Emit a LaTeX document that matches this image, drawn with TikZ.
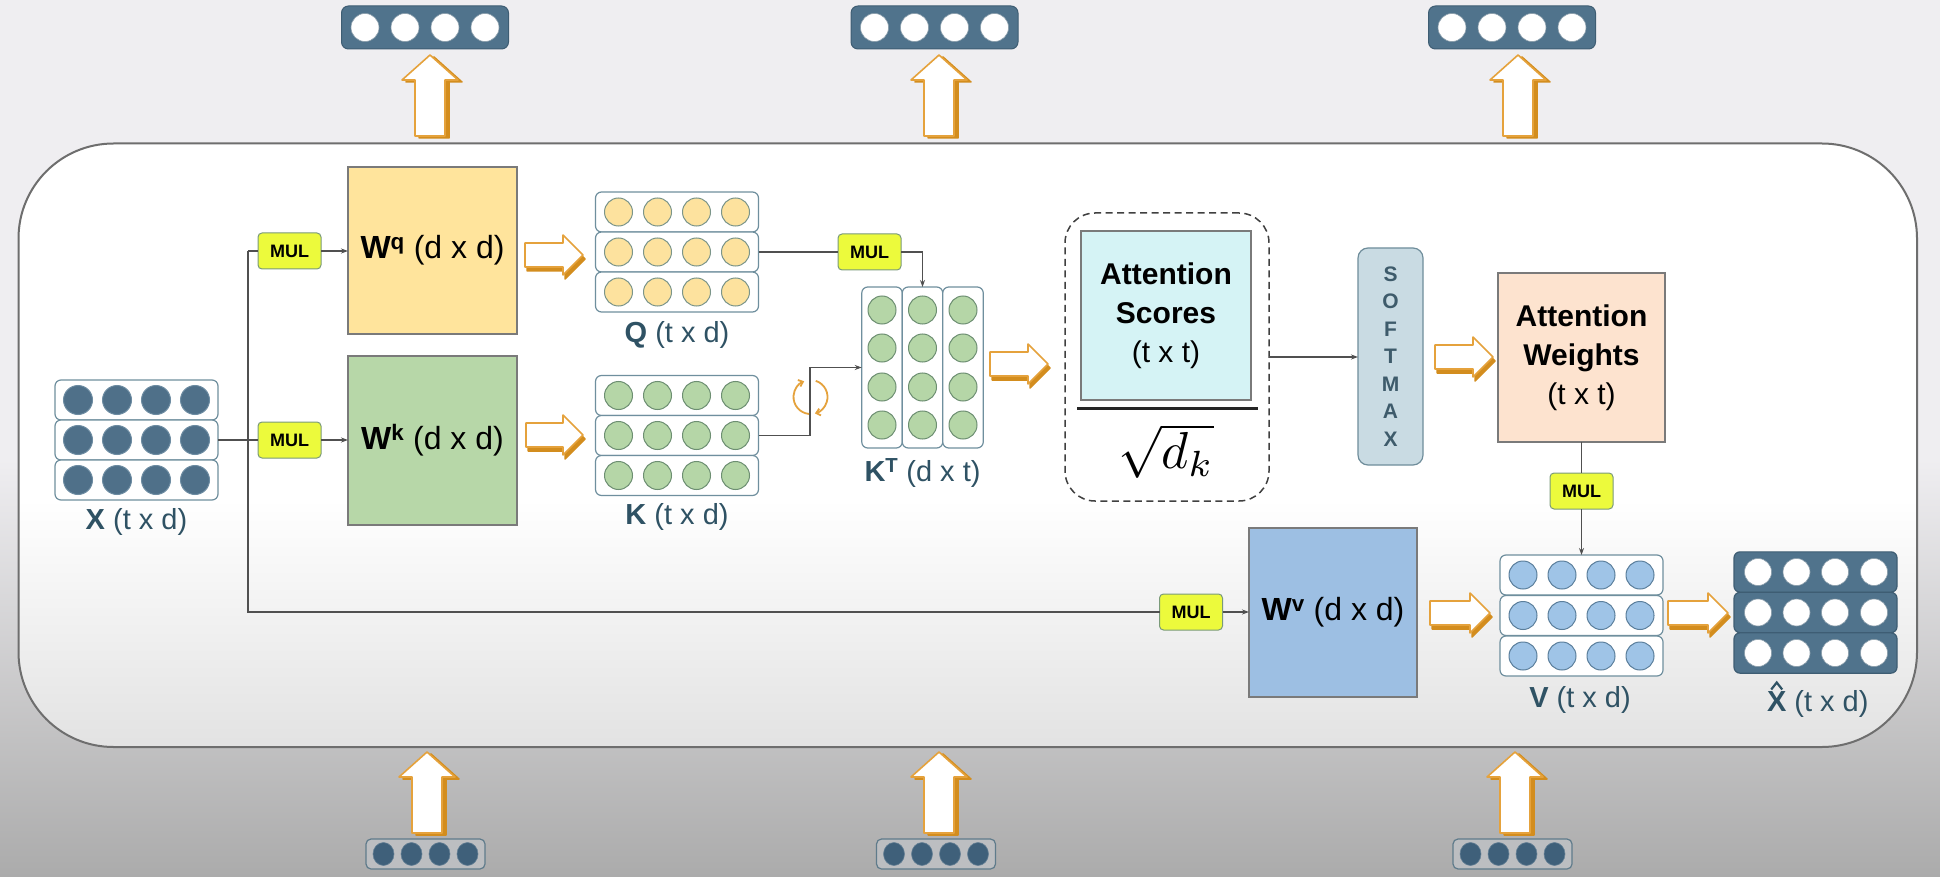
\documentclass[tikz,border=0pt]{standalone}
\usepackage{fontspec}
\setmainfont{Liberation Sans}
\usetikzlibrary{shapes.geometric,arrows.meta,calc}
\definecolor{bgtop}{HTML}{EFEEF1}
\definecolor{bgbot}{HTML}{ABABAB}
\definecolor{framec}{HTML}{6E6E6E}
\definecolor{framebot}{HTML}{E2E2E2}
\definecolor{rowc}{HTML}{6F8F9E}
\definecolor{qfill}{HTML}{FDE29E}
\definecolor{qline}{HTML}{7B958A}
\definecolor{kfill}{HTML}{B5D6A7}
\definecolor{kline}{HTML}{6D8F72}
\definecolor{vfill}{HTML}{9FC4E7}
\definecolor{vline}{HTML}{5B7F9C}
\definecolor{xfill}{HTML}{4F7089}
\definecolor{xline}{HTML}{6D8CA2}
\definecolor{darkrow}{HTML}{50738C}
\definecolor{darkrowline}{HTML}{3E5D73}
\definecolor{wqc}{HTML}{FFE49C}
\definecolor{wkc}{HTML}{B7D7A8}
\definecolor{wvc}{HTML}{9DBFE3}
\definecolor{scorec}{HTML}{D5F3F5}
\definecolor{awc}{HTML}{FDE3CF}
\definecolor{smaxc}{HTML}{C9DBE3}
\definecolor{smaxline}{HTML}{6F8D9B}
\definecolor{smaxtext}{HTML}{3E5B6B}
\definecolor{mulc}{HTML}{ECFA3C}
\definecolor{mulline}{HTML}{7A9A7A}
\definecolor{labc}{HTML}{2F5264}
\definecolor{connc}{HTML}{505050}
\definecolor{arrc}{HTML}{E5A23C}
\definecolor{arrdark}{HTML}{D38D1E}
\definecolor{botvecc}{HTML}{BCBEC1}
\definecolor{botvecline}{HTML}{5F7B8B}
\definecolor{botcell}{HTML}{3F607A}
\definecolor{wline}{HTML}{7A7A7A}

\newcommand{\hrow}[4]{%
  \node[rowbox] (#1) at (#2,#3) {};
  \foreach \kk/\dd in {1/-58.5,2/-19.5,3/19.5,4/58.5}{%
    \node[#4] (#1c\kk) at ([xshift=\dd pt]#1.center) {};}}
\newcommand{\vcolm}[3]{%
  \node[colbox] (#1) at (#2,#3) {};
  \foreach \kk/\dd in {1/57.5,2/19.5,3/-19.5,4/-57.5}{%
    \node[kcell] (#1c\kk) at ([yshift=\dd pt]#1.center) {};}}
\newcommand{\xhrow}[3]{%
  \node[xhbox] (#1) at (#2,#3) {};
  \foreach \kk/\dd in {1/-57.5,2/-19,3/19.5,4/58.5}{%
    \node[whitecell] (#1c\kk) at ([xshift=\dd pt]#1.center) {};}}
\newcommand{\topvec}[3]{%
  \node[topvecbox] (#1) at (#2,#3) {};
  \foreach \kk/\dd in {1/-60,2/-20,3/20,4/60}{%
    \node[whitecell,minimum size=28pt] (#1c\kk) at ([xshift=\dd pt]#1.center) {};}}
\newcommand{\botvec}[3]{%
  \node[botvecbox] (#1) at (#2,#3) {};
  \foreach \kk/\dd in {1/-42,2/-14,3/14,4/42}{%
    \node[botcellst] (#1c\kk) at ([xshift=\dd pt]#1.center) {};}}
% sketchy block arrows
\newcommand{\upsk}[2]{%
  \foreach \ox/\oy/\sty in {4/2/arrsh,0/0/arrfg}{%
    \path[\sty] (#1+\ox,#2+\oy) -- ++(28,25) -- ++(-13,0) -- ++(0,56) -- ++(-30,0) -- ++(0,-56) -- ++(-13,0) -- cycle;}}
\newcommand{\rightsk}[3]{%
  \foreach \ox/\oy/\sty in {2/4/arrsh,0/0/arrfg}{%
    \path[\sty] (#1+\ox,#2-12+\oy) -- ++(#3-20,0) -- ++(0,-8) -- ++(20,20) -- ++(-20,20) -- ++(0,-8) -- ++(-#3+20,0) -- cycle;}}

\begin{document}
\begin{tikzpicture}[x=1pt,y=-1pt,
  every node/.style={inner sep=0pt,outer sep=0pt},
  rowbox/.style={draw=rowc,fill=white,rounded corners=6pt,line width=1.2pt,minimum width=163pt,minimum height=40pt},
  colbox/.style={rowbox,minimum width=40.5pt,minimum height=161pt},
  xhbox/.style={draw=darkrowline,fill=darkrow,rounded corners=6pt,line width=1.2pt,minimum width=163pt,minimum height=40.3pt},
  topvecbox/.style={draw=darkrowline,fill=darkrow,rounded corners=7pt,line width=1pt,minimum width=167pt,minimum height=43pt},
  botvecbox/.style={draw=botvecline,fill=botvecc,rounded corners=5pt,line width=1.2pt,minimum width=119pt,minimum height=30pt},
  botcellst/.style={ellipse,fill=botcell,draw=botcell!80!white,line width=0.6pt,minimum width=21pt,minimum height=23pt},
  qcell/.style={circle,fill=qfill,draw=qline,line width=1pt,minimum size=28pt},
  kcell/.style={circle,fill=kfill,draw=kline,line width=1pt,minimum size=28pt},
  vcell/.style={circle,fill=vfill,draw=vline,line width=1pt,minimum size=28pt},
  xcell/.style={circle,fill=xfill,draw=xline,line width=1pt,minimum size=29pt},
  whitecell/.style={circle,fill=white,draw=darkrowline!60!white,line width=0.6pt,minimum size=27pt},
  wbox/.style={draw=wline,line width=1.2pt,font=\fontsize{32}{38}\selectfont},
  attbox/.style={draw=wline,line width=1.2pt,align=center,font=\fontsize{30}{39}\selectfont},
  mulbox/.style={draw=mulline,fill=mulc,rounded corners=4pt,line width=1pt,minimum width=63pt,minimum height=36pt,font=\fontsize{18}{20}\selectfont\bfseries},
  lab/.style={text=labc,font=\fontsize{29}{34}\selectfont},
  conn/.style={draw=connc,line width=1.1pt},
  tip/.style={-{Stealth[length=7pt,width=5pt]}},
  arrsh/.style={fill=arrdark,draw=arrdark,line width=1.5pt,line join=round},
  arrfg/.style={fill=white,draw=arrc,line width=1.6pt,line join=round}
]
\useasboundingbox (0,0) rectangle (1940,877);
% background
\fill[bgtop] (0,0) rectangle (1940,460);
\shade[top color=bgtop,bottom color=bgbot] (0,459) rectangle (1940,877);
% frame
\begin{scope}
  \clip[rounded corners=95pt] (18.5,143.5) rectangle (1917,747);
  \fill[white] (0,140) rectangle (1940,500);
  \shade[top color=white,bottom color=framebot] (0,499) rectangle (1940,750);
\end{scope}
\node[draw=framec,line width=2pt,rounded corners=95pt,minimum width=1898.5pt,minimum height=603.5pt] (frame) at (967.75,445.25) {};

% top output vectors and arrows
\topvec{tv1}{425}{27.5}
\topvec{tv2}{934.5}{27.5}
\topvec{tv3}{1512}{27.5}
\upsk{430}{55}
\upsk{939}{55}
\upsk{1518}{55}
% bottom input vectors and arrows
\botvec{bv1}{425.5}{854}
\botvec{bv2}{936}{854}
\botvec{bv3}{1512.5}{854}
\upsk{427}{752}
\upsk{939}{752}
\upsk{1515}{752}

% X
\hrow{x1}{136.5}{400}{xcell}
\hrow{x2}{136.5}{440}{xcell}
\hrow{x3}{136.5}{480}{xcell}
\node[lab] (xlab) at (136.5,522) {\textbf{X} (t x d)};

% weight matrices
\node[wbox,fill=wqc,minimum width=169pt,minimum height=167pt] (wq) at (432.5,250.5) {\textbf{W\textsuperscript{q}} (d x d)};
\node[wbox,fill=wkc,minimum width=169pt,minimum height=169pt] (wk) at (432.5,440.5) {\textbf{W\textsuperscript{k}} (d x d)};
\node[wbox,fill=wvc,minimum width=168pt,minimum height=169pt] (wv) at (1333,612.5) {\textbf{W\textsuperscript{v}} (d x d)};

% MUL boxes
\node[mulbox] (mul1) at (289.5,251) {MUL};
\node[mulbox] (mul2) at (289.5,440) {MUL};
\node[mulbox] (mul3) at (869.5,252) {MUL};
\node[mulbox] (mul4) at (1191,612) {MUL};
\node[mulbox] (mul5) at (1581.5,491) {MUL};

% Q and K
\hrow{q1}{677}{212}{qcell}
\hrow{q2}{677}{252}{qcell}
\hrow{q3}{677}{292}{qcell}
\node[lab] (qlab) at (677,335) {\textbf{Q} (t x d)};
\hrow{k1}{677}{395.5}{kcell}
\hrow{k2}{677}{435.5}{kcell}
\hrow{k3}{677}{475.5}{kcell}
\node[lab] (klab) at (677,517) {\textbf{K} (t x d)};

% K transpose
\vcolm{kt1}{882}{367.5}
\vcolm{kt2}{922.5}{367.5}
\vcolm{kt3}{963}{367.5}
\node[lab] (ktlab) at (922.5,473) {\textbf{K\textsuperscript{T}} (d x t)};

% attention scores
\node[draw=black!75,dash pattern=on 7pt off 4.5pt,line width=1.5pt,rounded corners=30pt,minimum width=204pt,minimum height=288pt] (dash) at (1167,357) {};
\node[attbox,fill=scorec,minimum width=170pt,minimum height=169pt] (scores) at (1166,315.5) {\textbf{Attention}\\\textbf{Scores}\\(t x t)};
\node[fill=black!85,minimum width=181pt,minimum height=3pt] (fracbar) at (1167.5,408) {};
\node[scale=5.2] (sqrtdk) at (1166,451) {$\sqrt{d_k}$};

% softmax
\node[draw=smaxline,fill=smaxc,rounded corners=10pt,line width=1.2pt,minimum width=65pt,minimum height=217pt,align=center,text=smaxtext,font=\fontsize{21}{27.5}\selectfont\bfseries] (smax) at (1390.5,356.5) {S\\O\\F\\T\\M\\A\\X};

% attention weights
\node[attbox,fill=awc,minimum width=167pt,minimum height=169pt] (aw) at (1581.5,357.5) {\textbf{Attention}\\\textbf{Weights}\\(t x t)};

% V and X hat
\hrow{v1}{1581.5}{575}{vcell}
\hrow{v2}{1581.5}{615.5}{vcell}
\hrow{v3}{1581.5}{656}{vcell}
\node[lab] (vlab) at (1580,700) {\textbf{V} (t x d)};
\xhrow{xh1}{1815.5}{572}
\xhrow{xh2}{1815.5}{612.5}
\xhrow{xh3}{1815.5}{653}
\node[lab,anchor=west] (xhlab) at (1767,704) {\textbf{X} (t x d)};
\draw[labc,line width=2.2pt,line join=miter] ($(xhlab.west)+(4.2,-14.5)$) -- ++(5.5,-7) -- ++(5.5,7);

% connectors
\coordinate (jq) at (248,251);
\coordinate (jv) at (248,612);
\coordinate (kbend) at (810,435.5);
\draw[conn] (x2.east) -- (mul2.west);
\draw[conn] (jq) -- (jv) -- (mul4.west);
\draw[conn] (jq) -- (mul1.west);
\draw[conn,tip] (mul1.east) -- (wq.west |- mul1.east);
\draw[conn,tip] (mul2.east) -- (wk.west |- mul2.east);
\draw[conn,tip] (mul4.east) -- (wv.west |- mul4.east);
\draw[conn] (q2.east) -- (mul3.west);
\draw[conn,tip] (mul3.east) -| (kt2.north);
\draw[conn,tip] (k2.east) -- (kbend) |- (kt1.west);
\draw[conn,tip] (dash.east) -- (dash.east -| smax.west);
\draw[conn] (aw.south) -- (mul5.north);
\draw[conn,tip] (mul5.south) -- (v1.north);

% transpose icon
\begin{scope}[shift={(810.5,397)},yscale=-1]
  \draw[arrc,line width=1.8pt,-{Straight Barb[length=4pt,width=7pt]}] (265:17) arc[start angle=265,end angle=112,radius=17];
  \draw[arrc,line width=1.8pt,-{Straight Barb[length=4pt,width=7pt]}] (72:17) arc[start angle=72,end angle=-75,radius=17];
\end{scope}

% block arrows
\rightsk{525}{255}{58}
\rightsk{526}{435}{57}
\rightsk{990}{364}{58}
\rightsk{1435}{357}{58}
\rightsk{1430}{613}{60}
\rightsk{1668}{613}{60}
\end{tikzpicture}
\end{document}
